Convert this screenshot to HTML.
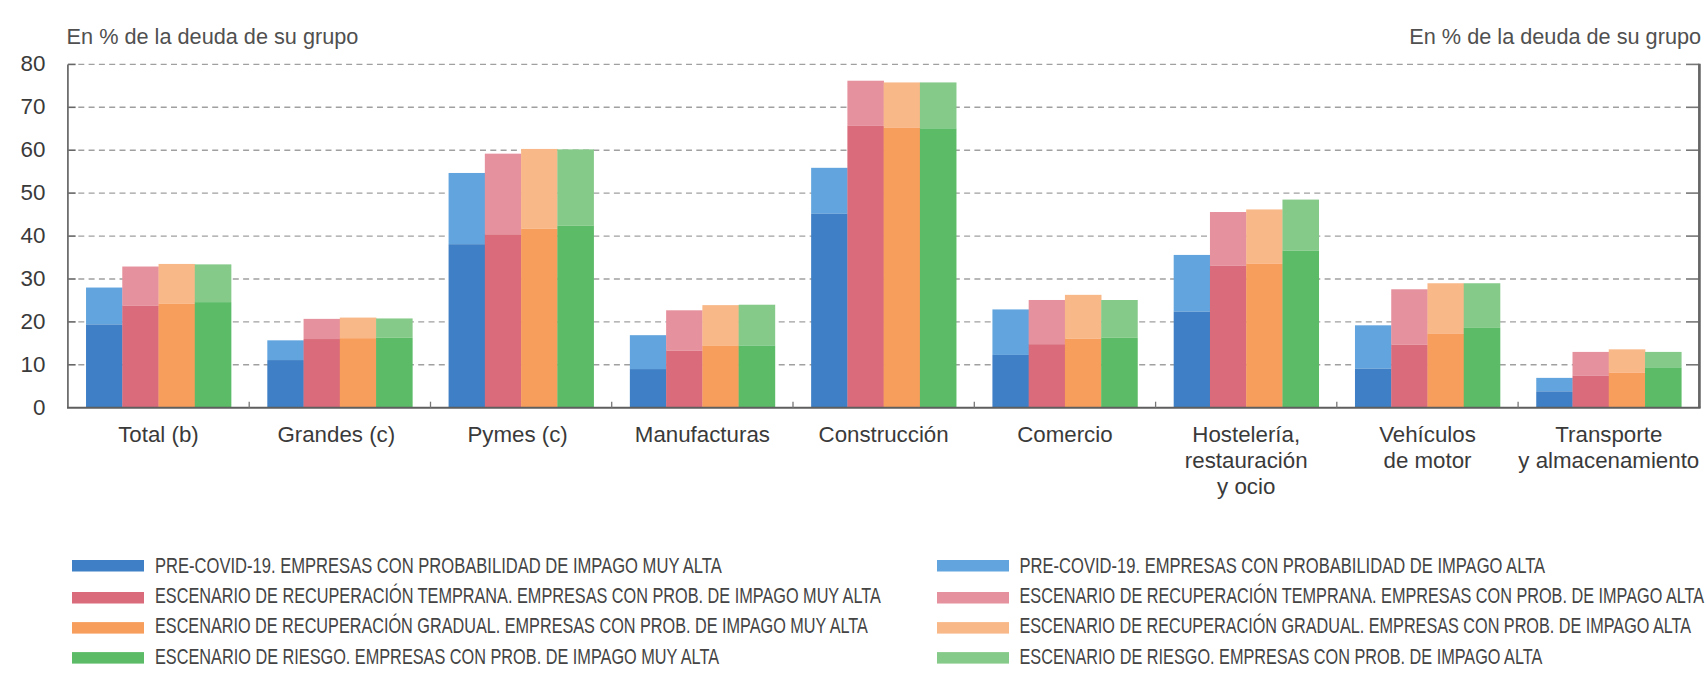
<!DOCTYPE html>
<html><head><meta charset="utf-8"><title>Chart</title>
<style>
html,body{margin:0;padding:0;background:#fff;width:1706px;height:699px;overflow:hidden;}
svg{position:absolute;left:0;top:0;display:block;}
text{font-family:"Liberation Sans",sans-serif;}
</style></head><body>
<svg width="1706" height="699" viewBox="0 0 1706 699">
<rect x="0" y="0" width="1706" height="699" fill="#ffffff"/>
<line x1="78.3" y1="364.8" x2="1683" y2="364.8" stroke="#a0a0a0" stroke-width="1.4" stroke-dasharray="6 4.3"/>
<line x1="67.9" y1="364.8" x2="75.6" y2="364.8" stroke="#666" stroke-width="1.6"/>
<line x1="1686" y1="364.8" x2="1699.4" y2="364.8" stroke="#777" stroke-width="1.6"/>
<line x1="78.3" y1="321.9" x2="1683" y2="321.9" stroke="#a0a0a0" stroke-width="1.4" stroke-dasharray="6 4.3"/>
<line x1="67.9" y1="321.9" x2="75.6" y2="321.9" stroke="#666" stroke-width="1.6"/>
<line x1="1686" y1="321.9" x2="1699.4" y2="321.9" stroke="#777" stroke-width="1.6"/>
<line x1="78.3" y1="279.0" x2="1683" y2="279.0" stroke="#a0a0a0" stroke-width="1.4" stroke-dasharray="6 4.3"/>
<line x1="67.9" y1="279.0" x2="75.6" y2="279.0" stroke="#666" stroke-width="1.6"/>
<line x1="1686" y1="279.0" x2="1699.4" y2="279.0" stroke="#777" stroke-width="1.6"/>
<line x1="78.3" y1="236.1" x2="1683" y2="236.1" stroke="#a0a0a0" stroke-width="1.4" stroke-dasharray="6 4.3"/>
<line x1="67.9" y1="236.1" x2="75.6" y2="236.1" stroke="#666" stroke-width="1.6"/>
<line x1="1686" y1="236.1" x2="1699.4" y2="236.1" stroke="#777" stroke-width="1.6"/>
<line x1="78.3" y1="193.1" x2="1683" y2="193.1" stroke="#a0a0a0" stroke-width="1.4" stroke-dasharray="6 4.3"/>
<line x1="67.9" y1="193.1" x2="75.6" y2="193.1" stroke="#666" stroke-width="1.6"/>
<line x1="1686" y1="193.1" x2="1699.4" y2="193.1" stroke="#777" stroke-width="1.6"/>
<line x1="78.3" y1="150.2" x2="1683" y2="150.2" stroke="#a0a0a0" stroke-width="1.4" stroke-dasharray="6 4.3"/>
<line x1="67.9" y1="150.2" x2="75.6" y2="150.2" stroke="#666" stroke-width="1.6"/>
<line x1="1686" y1="150.2" x2="1699.4" y2="150.2" stroke="#777" stroke-width="1.6"/>
<line x1="78.3" y1="107.3" x2="1683" y2="107.3" stroke="#a0a0a0" stroke-width="1.4" stroke-dasharray="6 4.3"/>
<line x1="67.9" y1="107.3" x2="75.6" y2="107.3" stroke="#666" stroke-width="1.6"/>
<line x1="1686" y1="107.3" x2="1699.4" y2="107.3" stroke="#777" stroke-width="1.6"/>
<line x1="78.3" y1="64.4" x2="1683" y2="64.4" stroke="#a0a0a0" stroke-width="1.4" stroke-dasharray="6 4.3"/>
<line x1="67.9" y1="64.4" x2="75.6" y2="64.4" stroke="#666" stroke-width="1.6"/>
<line x1="1686" y1="64.4" x2="1699.4" y2="64.4" stroke="#777" stroke-width="1.6"/>
<rect x="86.03" y="287.54" width="36.56" height="36.90" fill="#62a5de"/>
<rect x="86.03" y="324.45" width="36.56" height="83.25" fill="#3e7fc5"/>
<rect x="122.28" y="266.52" width="36.56" height="39.05" fill="#e6929e"/>
<rect x="122.28" y="305.57" width="36.56" height="102.13" fill="#d96b7a"/>
<rect x="158.54" y="263.94" width="36.56" height="39.91" fill="#f9b888"/>
<rect x="158.54" y="303.85" width="36.56" height="103.85" fill="#f89e5c"/>
<rect x="194.79" y="264.37" width="36.56" height="37.76" fill="#86ca8a"/>
<rect x="194.79" y="302.14" width="36.56" height="105.56" fill="#5bbb66"/>
<rect x="267.31" y="340.33" width="36.56" height="19.74" fill="#62a5de"/>
<rect x="267.31" y="360.07" width="36.56" height="47.63" fill="#3e7fc5"/>
<rect x="303.56" y="318.87" width="36.56" height="20.17" fill="#e6929e"/>
<rect x="303.56" y="339.04" width="36.56" height="68.66" fill="#d96b7a"/>
<rect x="339.82" y="317.58" width="36.56" height="20.60" fill="#f9b888"/>
<rect x="339.82" y="338.18" width="36.56" height="69.52" fill="#f89e5c"/>
<rect x="376.07" y="318.44" width="36.56" height="19.31" fill="#86ca8a"/>
<rect x="376.07" y="337.75" width="36.56" height="69.95" fill="#5bbb66"/>
<rect x="448.58" y="172.97" width="36.56" height="71.23" fill="#62a5de"/>
<rect x="448.58" y="244.20" width="36.56" height="163.50" fill="#3e7fc5"/>
<rect x="484.84" y="153.66" width="36.56" height="80.68" fill="#e6929e"/>
<rect x="484.84" y="234.33" width="36.56" height="173.37" fill="#d96b7a"/>
<rect x="521.09" y="148.94" width="36.56" height="79.82" fill="#f9b888"/>
<rect x="521.09" y="228.75" width="36.56" height="178.95" fill="#f89e5c"/>
<rect x="557.35" y="149.37" width="36.56" height="76.38" fill="#86ca8a"/>
<rect x="557.35" y="225.75" width="36.56" height="181.95" fill="#5bbb66"/>
<rect x="629.86" y="335.18" width="36.56" height="33.90" fill="#62a5de"/>
<rect x="629.86" y="369.08" width="36.56" height="38.62" fill="#3e7fc5"/>
<rect x="666.12" y="310.29" width="36.56" height="40.34" fill="#e6929e"/>
<rect x="666.12" y="350.63" width="36.56" height="57.07" fill="#d96b7a"/>
<rect x="702.37" y="305.14" width="36.56" height="40.77" fill="#f9b888"/>
<rect x="702.37" y="345.91" width="36.56" height="61.79" fill="#f89e5c"/>
<rect x="738.63" y="304.71" width="36.56" height="40.77" fill="#86ca8a"/>
<rect x="738.63" y="345.48" width="36.56" height="62.22" fill="#5bbb66"/>
<rect x="811.14" y="167.82" width="36.56" height="45.92" fill="#62a5de"/>
<rect x="811.14" y="213.74" width="36.56" height="193.96" fill="#3e7fc5"/>
<rect x="847.39" y="80.71" width="36.56" height="45.06" fill="#e6929e"/>
<rect x="847.39" y="125.76" width="36.56" height="281.94" fill="#d96b7a"/>
<rect x="883.65" y="82.42" width="36.56" height="45.06" fill="#f9b888"/>
<rect x="883.65" y="127.48" width="36.56" height="280.22" fill="#f89e5c"/>
<rect x="919.91" y="82.42" width="36.56" height="45.92" fill="#86ca8a"/>
<rect x="919.91" y="128.34" width="36.56" height="279.36" fill="#5bbb66"/>
<rect x="992.42" y="309.43" width="36.56" height="45.49" fill="#62a5de"/>
<rect x="992.42" y="354.92" width="36.56" height="52.78" fill="#3e7fc5"/>
<rect x="1028.67" y="299.99" width="36.56" height="44.20" fill="#e6929e"/>
<rect x="1028.67" y="344.19" width="36.56" height="63.51" fill="#d96b7a"/>
<rect x="1064.93" y="294.84" width="36.56" height="43.77" fill="#f9b888"/>
<rect x="1064.93" y="338.61" width="36.56" height="69.09" fill="#f89e5c"/>
<rect x="1101.18" y="299.99" width="36.56" height="37.76" fill="#86ca8a"/>
<rect x="1101.18" y="337.75" width="36.56" height="69.95" fill="#5bbb66"/>
<rect x="1173.69" y="254.93" width="36.56" height="56.64" fill="#62a5de"/>
<rect x="1173.69" y="311.58" width="36.56" height="96.12" fill="#3e7fc5"/>
<rect x="1209.95" y="212.02" width="36.56" height="53.64" fill="#e6929e"/>
<rect x="1209.95" y="265.66" width="36.56" height="142.04" fill="#d96b7a"/>
<rect x="1246.21" y="209.44" width="36.56" height="54.07" fill="#f9b888"/>
<rect x="1246.21" y="263.51" width="36.56" height="144.19" fill="#f89e5c"/>
<rect x="1282.46" y="199.57" width="36.56" height="51.07" fill="#86ca8a"/>
<rect x="1282.46" y="250.64" width="36.56" height="157.06" fill="#5bbb66"/>
<rect x="1354.97" y="325.31" width="36.56" height="43.34" fill="#62a5de"/>
<rect x="1354.97" y="368.65" width="36.56" height="39.05" fill="#3e7fc5"/>
<rect x="1391.23" y="289.26" width="36.56" height="55.36" fill="#e6929e"/>
<rect x="1391.23" y="344.62" width="36.56" height="63.08" fill="#d96b7a"/>
<rect x="1427.48" y="283.25" width="36.56" height="50.64" fill="#f9b888"/>
<rect x="1427.48" y="333.89" width="36.56" height="73.81" fill="#f89e5c"/>
<rect x="1463.74" y="283.25" width="36.56" height="44.63" fill="#86ca8a"/>
<rect x="1463.74" y="327.88" width="36.56" height="79.82" fill="#5bbb66"/>
<rect x="1536.25" y="377.88" width="36.56" height="13.52" fill="#62a5de"/>
<rect x="1536.25" y="391.39" width="36.56" height="16.31" fill="#3e7fc5"/>
<rect x="1572.51" y="351.91" width="36.56" height="23.60" fill="#e6929e"/>
<rect x="1572.51" y="375.52" width="36.56" height="32.18" fill="#d96b7a"/>
<rect x="1608.76" y="349.34" width="36.56" height="23.17" fill="#f9b888"/>
<rect x="1608.76" y="372.51" width="36.56" height="35.19" fill="#f89e5c"/>
<rect x="1645.02" y="351.91" width="36.56" height="15.45" fill="#86ca8a"/>
<rect x="1645.02" y="367.36" width="36.56" height="40.34" fill="#5bbb66"/>
<line x1="67.9" y1="64.4" x2="67.9" y2="407.7" stroke="#6e6e6e" stroke-width="1.8"/>
<line x1="1699.4" y1="63.7" x2="1699.4" y2="407.7" stroke="#666" stroke-width="2.7"/>
<line x1="67.0" y1="407.7" x2="1700.6" y2="407.7" stroke="#5e5e5e" stroke-width="2"/>
<line x1="249.2" y1="401.7" x2="249.2" y2="407.7" stroke="#777" stroke-width="1.3"/>
<line x1="430.5" y1="401.7" x2="430.5" y2="407.7" stroke="#777" stroke-width="1.3"/>
<line x1="611.7" y1="401.7" x2="611.7" y2="407.7" stroke="#777" stroke-width="1.3"/>
<line x1="793.0" y1="401.7" x2="793.0" y2="407.7" stroke="#777" stroke-width="1.3"/>
<line x1="974.3" y1="401.7" x2="974.3" y2="407.7" stroke="#777" stroke-width="1.3"/>
<line x1="1155.6" y1="401.7" x2="1155.6" y2="407.7" stroke="#777" stroke-width="1.3"/>
<line x1="1336.8" y1="401.7" x2="1336.8" y2="407.7" stroke="#777" stroke-width="1.3"/>
<line x1="1518.1" y1="401.7" x2="1518.1" y2="407.7" stroke="#777" stroke-width="1.3"/>
<text x="45.5" y="414.5" font-size="22.4" fill="#3a3a3a" text-anchor="end">0</text>
<text x="45.5" y="371.6" font-size="22.4" fill="#3a3a3a" text-anchor="end">10</text>
<text x="45.5" y="328.7" font-size="22.4" fill="#3a3a3a" text-anchor="end">20</text>
<text x="45.5" y="285.8" font-size="22.4" fill="#3a3a3a" text-anchor="end">30</text>
<text x="45.5" y="242.9" font-size="22.4" fill="#3a3a3a" text-anchor="end">40</text>
<text x="45.5" y="199.9" font-size="22.4" fill="#3a3a3a" text-anchor="end">50</text>
<text x="45.5" y="157.0" font-size="22.4" fill="#3a3a3a" text-anchor="end">60</text>
<text x="45.5" y="114.1" font-size="22.4" fill="#3a3a3a" text-anchor="end">70</text>
<text x="45.5" y="71.2" font-size="22.4" fill="#3a3a3a" text-anchor="end">80</text>
<text x="66.6" y="43.6" font-size="21.7" fill="#505050">En % de la deuda de su grupo</text>
<text x="1701.1" y="43.6" font-size="21.7" fill="#505050" text-anchor="end">En % de la deuda de su grupo</text>
<text x="158.5" y="441.8" font-size="22.3" fill="#3a3a3a" text-anchor="middle">Total (b)</text>
<text x="336.3" y="441.8" font-size="22.3" fill="#3a3a3a" text-anchor="middle">Grandes (c)</text>
<text x="517.6" y="441.8" font-size="22.3" fill="#3a3a3a" text-anchor="middle">Pymes (c)</text>
<text x="702.4" y="441.8" font-size="22.3" fill="#3a3a3a" text-anchor="middle">Manufacturas</text>
<text x="883.6" y="441.8" font-size="22.3" fill="#3a3a3a" text-anchor="middle">Construcción</text>
<text x="1064.9" y="441.8" font-size="22.3" fill="#3a3a3a" text-anchor="middle">Comercio</text>
<text x="1246.2" y="441.8" font-size="22.3" fill="#3a3a3a" text-anchor="middle">Hostelería,</text>
<text x="1246.2" y="468.1" font-size="22.3" fill="#3a3a3a" text-anchor="middle">restauración</text>
<text x="1246.2" y="494.4" font-size="22.3" fill="#3a3a3a" text-anchor="middle">y ocio</text>
<text x="1427.5" y="441.8" font-size="22.3" fill="#3a3a3a" text-anchor="middle">Vehículos</text>
<text x="1427.5" y="468.1" font-size="22.3" fill="#3a3a3a" text-anchor="middle">de motor</text>
<text x="1608.8" y="441.8" font-size="22.3" fill="#3a3a3a" text-anchor="middle">Transporte</text>
<text x="1608.8" y="468.1" font-size="22.3" fill="#3a3a3a" text-anchor="middle">y almacenamiento</text>
<rect x="72" y="560.0" width="72" height="11.5" fill="#3e7fc5"/>
<text x="155" y="572.8" font-size="22.8" fill="#444" textLength="566.8" lengthAdjust="spacingAndGlyphs">PRE-COVID-19. EMPRESAS CON PROBABILIDAD DE IMPAGO MUY ALTA</text>
<rect x="72" y="592.0" width="72" height="11.5" fill="#d96b7a"/>
<text x="155" y="602.8" font-size="22.8" fill="#444" textLength="725.8" lengthAdjust="spacingAndGlyphs">ESCENARIO DE RECUPERACIÓN TEMPRANA. EMPRESAS CON PROB. DE IMPAGO MUY ALTA</text>
<rect x="72" y="622.1" width="72" height="11.5" fill="#f89e5c"/>
<text x="155" y="633.0" font-size="22.8" fill="#444" textLength="712.8" lengthAdjust="spacingAndGlyphs">ESCENARIO DE RECUPERACIÓN GRADUAL. EMPRESAS CON PROB. DE IMPAGO MUY ALTA</text>
<rect x="72" y="652.1" width="72" height="11.5" fill="#5bbb66"/>
<text x="155" y="663.6" font-size="22.8" fill="#444" textLength="564.0" lengthAdjust="spacingAndGlyphs">ESCENARIO DE RIESGO. EMPRESAS CON PROB. DE IMPAGO MUY ALTA</text>
<rect x="937" y="560.0" width="72" height="11.5" fill="#62a5de"/>
<text x="1019.5" y="572.8" font-size="22.8" fill="#444" textLength="525.6" lengthAdjust="spacingAndGlyphs">PRE-COVID-19. EMPRESAS CON PROBABILIDAD DE IMPAGO ALTA</text>
<rect x="937" y="592.0" width="72" height="11.5" fill="#e6929e"/>
<text x="1019.5" y="602.8" font-size="22.8" fill="#444" textLength="684.6" lengthAdjust="spacingAndGlyphs">ESCENARIO DE RECUPERACIÓN TEMPRANA. EMPRESAS CON PROB. DE IMPAGO ALTA</text>
<rect x="937" y="622.1" width="72" height="11.5" fill="#f9b888"/>
<text x="1019.5" y="633.0" font-size="22.8" fill="#444" textLength="671.6" lengthAdjust="spacingAndGlyphs">ESCENARIO DE RECUPERACIÓN GRADUAL. EMPRESAS CON PROB. DE IMPAGO ALTA</text>
<rect x="937" y="652.1" width="72" height="11.5" fill="#86ca8a"/>
<text x="1019.5" y="663.6" font-size="22.8" fill="#444" textLength="522.8" lengthAdjust="spacingAndGlyphs">ESCENARIO DE RIESGO. EMPRESAS CON PROB. DE IMPAGO ALTA</text>
</svg>
</body></html>
